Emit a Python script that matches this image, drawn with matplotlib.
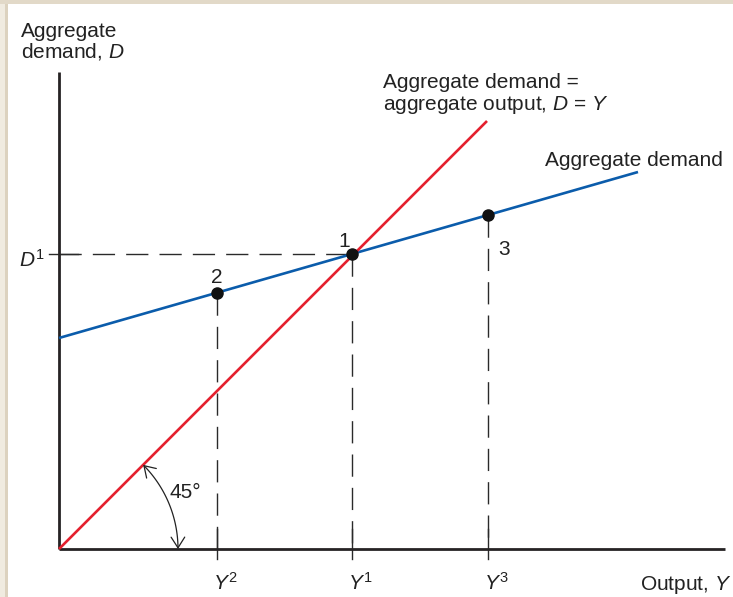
import numpy as np
import matplotlib
matplotlib.use("Agg")
import matplotlib.pyplot as plt
from matplotlib.patches import FancyArrowPatch, Rectangle
from matplotlib.path import Path

plt.rcParams['font.family'] = ['Liberation Sans', 'DejaVu Sans']
plt.rcParams['mathtext.fontset'] = 'custom'
plt.rcParams['mathtext.rm'] = 'Liberation Sans'
plt.rcParams['mathtext.it'] = 'Liberation Sans:italic'

# ---- data (arbitrary units) ----
point_names = ["2", "1", "3"]
output_levels = [1.58, 2.93, 4.29]          # Y2, Y1, Y3
tick_labels = [r"$Y^2$", r"$Y^1$", r"$Y^3$"]
ad_intercept = 2.11
ad_slope = 0.2867
ad_x_end = 5.79
line45_end = 4.28
d1_label = r"$D^1$"
angle_label = "45°"
axis_x_max = 6.66
axis_y_max = 4.77

ad_values = [ad_intercept + ad_slope * x for x in output_levels]
d1_value = ad_values[1]

W, H = 733, 597
fig = plt.figure(figsize=(W / 100, H / 100), dpi=100, facecolor="white")
ax = fig.add_axes([0, 0, 1, 1])
ax.set_xlim(-0.59, W / 100 - 0.59)
ax.set_ylim(-0.48, H / 100 - 0.48)
ax.axis("off")

# frame
fig.patches.append(Rectangle((0, 0), 7 / W, 1, transform=fig.transFigure,
                             facecolor="#f0ebe0", edgecolor="none", zorder=0))
fig.patches.append(Rectangle((5 / W, 0), 2.5 / W, 1 - 3 / H, transform=fig.transFigure,
                             facecolor="#dcd2bf", edgecolor="none", zorder=0))
fig.patches.append(Rectangle((0, 1 - 3.5 / H), 1, 3.5 / H, transform=fig.transFigure,
                             facecolor="#e2d9c8", edgecolor="none", zorder=0))

axis_col = "#262324"
red = "#e4202e"
blue = "#0b5cab"

# axes lines
ax.plot([0, 0], [0, axis_y_max], color=axis_col, lw=2.0, solid_capstyle="butt", zorder=3)
ax.plot([0, axis_x_max], [0, 0], color=axis_col, lw=2.0, solid_capstyle="butt", zorder=3)

# dashed guides
dash = dict(color="#2a2a2a", lw=1.0, dashes=(16, 8))
ax.plot([0, output_levels[1]], [d1_value, d1_value], **dash, zorder=2)
ax.plot([-0.1, 0.19], [d1_value, d1_value], color="#2a2a2a", lw=1.0, zorder=2)
for x, yv in zip(output_levels, ad_values):
    ax.plot([x, x], [yv, 0], **dash, zorder=2)
    ax.plot([x, x], [-0.1, 0.2], color="#2a2a2a", lw=1.0, zorder=2)

# lines
ax.plot([0, ad_x_end], [ad_intercept, ad_intercept + ad_slope * ad_x_end],
        color=blue, lw=1.9, zorder=4, solid_capstyle="butt")
ax.plot([0, line45_end], [0, line45_end], color=red, lw=1.9, zorder=5,
        solid_capstyle="butt")

# points
ax.plot(output_levels, ad_values, "o", color="#111111", ms=8, zorder=6)

fs = 15
# point labels
ax.text(output_levels[0], ad_values[0] + 0.10, point_names[0], fontsize=fs,
        ha="center", va="baseline", color="#222")
ax.text(output_levels[1] - 0.08, d1_value + 0.07, point_names[1], fontsize=fs,
        ha="center", va="baseline", color="#222")
ax.text(output_levels[2] + 0.16, ad_values[2] - 0.40, point_names[2], fontsize=fs,
        ha="center", va="baseline", color="#222")

# axis tick labels
for x, lab in zip(output_levels, tick_labels):
    ax.text(x - 0.04, -0.41, lab, fontsize=fs, ha="left", va="baseline", color="#222")
ax.text(-0.14, d1_value - 0.13, d1_label, fontsize=fs, ha="right", va="baseline",
        color="#222")

# axis titles
ax.text(-0.38, 5.12, "Aggregate", fontsize=fs, ha="left", va="baseline", color="#222")
ax.text(-0.38, 4.92, r"demand, $D$", fontsize=fs, ha="left", va="baseline", color="#222")
ax.text(7.31 - 0.59, -0.41, r"Output, $Y$", fontsize=fs, ha="right", va="baseline",
        color="#222")

# line labels
ax.text(3.24, 4.61, "Aggregate demand =", fontsize=fs, ha="left", va="baseline",
        color="#222")
ax.text(3.24, 4.39, r"aggregate output, $D$ = $Y$", fontsize=fs, ha="left",
        va="baseline", color="#222")
ax.text(4.86, 3.83, "Aggregate demand", fontsize=fs, ha="left", va="baseline",
        color="#222")

# 45 degree arc
r = 1.19
th = np.linspace(np.pi / 4, 0, 60)
verts = np.column_stack([r * np.cos(th), r * np.sin(th)])
codes = [Path.MOVETO] + [Path.LINETO] * (len(verts) - 1)
arc = FancyArrowPatch(path=Path(verts, codes), arrowstyle="<->,head_length=0.55,head_width=0.35",
                      mutation_scale=14, lw=0.9, color="#222", shrinkA=0, shrinkB=0,
                      zorder=6)
ax.add_patch(arc)
ax.text(1.11, 0.51, angle_label, fontsize=fs, ha="left", va="baseline", color="#222")

fig.savefig("out.png", dpi=100, facecolor="white")
